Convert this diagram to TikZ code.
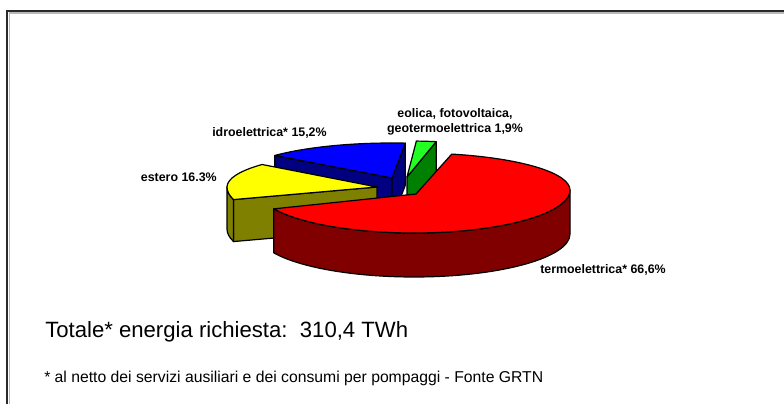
\documentclass[tikz,border=0pt]{standalone}
\usepackage{fontspec}
\setmainfont{Liberation Sans}
\usetikzlibrary{calc}
\definecolor{redtopc}{HTML}{FF0000}
\definecolor{redsidec}{HTML}{800000}
\definecolor{yeltopc}{HTML}{FFFF00}
\definecolor{yelsidec}{HTML}{808000}
\definecolor{bluetopc}{HTML}{0000FF}
\definecolor{bluesidec}{HTML}{000080}
\definecolor{greentopc}{HTML}{22FF22}
\definecolor{greensidec}{HTML}{008000}
\definecolor{framec}{HTML}{2A2A2A}
\begin{document}
\begin{tikzpicture}[x=0.75pt,y=0.75pt,
  slice/.style={draw=black,line width=0.9pt,line join=round},
  lbl/.style={inner sep=0pt,font=\bfseries\fontsize{9.3}{11}\selectfont},
  bigtxt/.style={inner sep=0pt,font=\fontsize{16.6}{19}\selectfont},
  smalltxt/.style={inner sep=0pt,font=\fontsize{11.8}{14}\selectfont}]
\useasboundingbox[fill=white] (0,0) rectangle (784,403);
% frame
\draw[gray!55,line width=1pt] (9.2,-5) -- (9.2,390) -- (790,390);
\draw[framec,line width=1.6pt] (7,-5) -- (7,392) -- (790,392);
% centres
\coordinate (rC) at (414,213);
\coordinate (rApex) at (416,209);
\coordinate (yC) at (377,216);
\coordinate (bC) at (392,225);
\coordinate (gC) at (407,226);
% corners
\coordinate (rA) at ($(rC)+({156*cos(-154)},{43*sin(-154)})$);
\coordinate (rB) at ($(rC)+({156*cos(76)},{37*sin(76)})$);
\coordinate (yP) at ($(yC)+({150*cos(140)},{35*sin(140)})$);
\coordinate (yQ) at ($(yC)+({150*cos(197)},{43*sin(197)})$);
\coordinate (bP) at ($(bC)+({153*cos(140)},{35*sin(140)})$);
\coordinate (bR) at ($(bC)+({153*cos(85)},{35*sin(85)})$);
\coordinate (gR) at ($(gC)+({153*cos(79)},{36*sin(79)})$);
% blue (idroelettrica)
\filldraw[slice,fill=bluesidec] (bP) -- (bC) -- ++(0,-42) -- ($(bP)+(0,-42)$) -- cycle;
\filldraw[slice,fill=bluesidec] (bC) -- (bR) -- ++(0,-42) -- ($(bC)+(0,-42)$) -- cycle;
\filldraw[slice,fill=bluetopc] (bC) -- (bR) arc[start angle=85,end angle=140,x radius=153,y radius=35] -- cycle;
% green (eolica)
\filldraw[slice,fill=greensidec] (gC) -- (gR) -- ++(0,-42) -- ($(gC)+(0,-42)$) -- cycle;
\filldraw[slice,fill=greentopc] (gC) -- (gR) arc[start angle=79,end angle=86.5,x radius=153,y radius=36] -- cycle;
% yellow (estero)
\filldraw[slice,fill=yelsidec] (yQ) -- (yC) -- ++(0,-42) -- ($(yQ)+(0,-42)$) -- cycle;
\filldraw[slice,fill=yelsidec] (yQ) arc[start angle=197,end angle=180,x radius=150,y radius=43] -- ++(0,-42) arc[start angle=180,end angle=197,x radius=150,y radius=43] -- cycle;
\filldraw[slice,fill=yeltopc] (yC) -- (yP) arc[start angle=140,end angle=180,x radius=150,y radius=35] arc[start angle=180,end angle=197,x radius=150,y radius=43] -- cycle;
% red (termoelettrica)
\filldraw[slice,fill=redsidec] (rA) arc[start angle=-154,end angle=0,x radius=156,y radius=43] -- ++(0,-44) arc[start angle=0,end angle=-154,x radius=156,y radius=43] -- cycle;
\filldraw[slice,fill=redtopc] (rApex) -- (rA) arc[start angle=-154,end angle=0,x radius=156,y radius=43] arc[start angle=0,end angle=76,x radius=156,y radius=37] -- cycle;
% labels
\node[lbl,anchor=base] (leo1) at (455,285) {eolica, fotovoltaica,};
\node[lbl,anchor=base] (leo2) at (455,270) {geotermoelettrica 1,9\%};
\node[lbl,anchor=base west] (lidro) at (212,266) {idroelettrica* 15,2\%};
\node[lbl,anchor=base east] (lest) at (217,221) {estero 16.3\%};
\node[lbl,anchor=base west] (lterm) at (540,129) {termoelettrica* 66,6\%};
\node[bigtxt,anchor=base west] (tot) at (45,65) {Totale* energia richiesta:\ \ 310,4 TWh};
\node[smalltxt,anchor=base west] (note) at (44,21) {* al netto dei servizi ausiliari e dei consumi per pompaggi - Fonte GRTN};
\end{tikzpicture}
\end{document}
